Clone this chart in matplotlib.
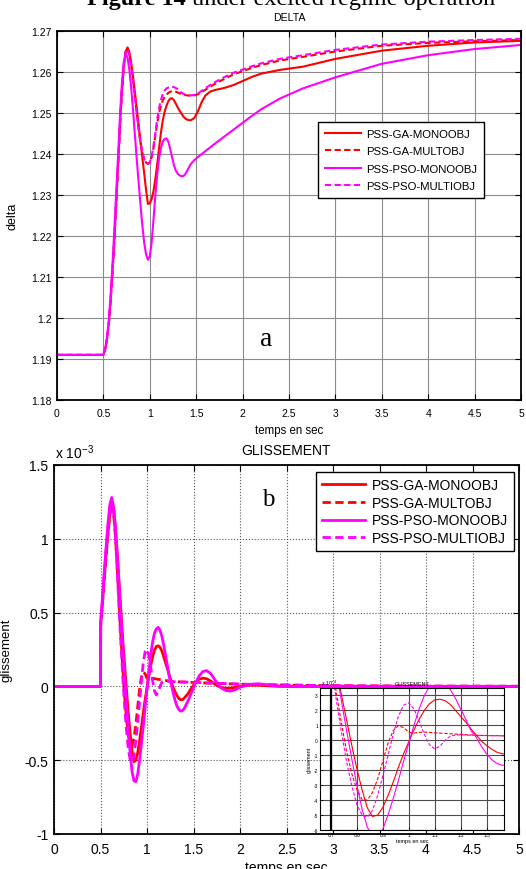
import matplotlib
matplotlib.use("Agg")
import matplotlib.pyplot as plt
from matplotlib.ticker import FormatStrFormatter, MultipleLocator

plt.rcParams["font.family"] = ["Liberation Sans", "DejaVu Sans"]
plt.rcParams["axes.unicode_minus"] = False
plt.rcParams["mathtext.fontset"] = "custom"
plt.rcParams["mathtext.rm"] = "Liberation Sans"

# ---------------------------------------------------------------- data
labels = ["PSS-GA-MONOOBJ", "PSS-GA-MULTOBJ", "PSS-PSO-MONOOBJ", "PSS-PSO-MULTIOBJ"]

# rotor angle (delta)
t_delta = [0.0,
           0.50, 0.52, 0.54, 0.56, 0.58, 0.60, 0.62, 0.64, 0.66, 0.68,
           0.70, 0.72, 0.74, 0.76, 0.78, 0.80, 0.82, 0.84, 0.86, 0.88,
           0.90, 0.92, 0.94, 0.96, 0.98, 1.00, 1.02, 1.04, 1.06, 1.08,
           1.10, 1.12, 1.14, 1.16, 1.18, 1.20, 1.22, 1.24, 1.26, 1.28,
           1.30, 1.32, 1.34, 1.36, 1.38, 1.40,
           1.44, 1.48, 1.52, 1.56, 1.60, 1.65, 1.70, 1.80, 1.90, 2.0,
           2.1, 2.2, 2.4, 2.65, 3.0, 3.5, 4.0, 4.5, 5.0]

delta_ga_mono = [1.1910,
                 1.1910, 1.1925, 1.1950, 1.1990, 1.2050, 1.2120, 1.2200, 1.2290, 1.2380, 1.2475,
                 1.2555, 1.2615, 1.2650, 1.2660, 1.2648, 1.2622, 1.2588, 1.2550, 1.2510, 1.2470,
                 1.2430, 1.2390, 1.2352, 1.2312, 1.2278, 1.2280, 1.2290, 1.2310, 1.2340, 1.2375,
                 1.2415, 1.2452, 1.2482, 1.2503, 1.2518, 1.2529, 1.2535, 1.2536, 1.2531, 1.2523,
                 1.2514, 1.2506, 1.2499, 1.2492, 1.2487, 1.2484,
                 1.2482, 1.2488, 1.2505, 1.2527, 1.2543, 1.2552, 1.2556, 1.2561, 1.2568, 1.2578,
                 1.2588, 1.2596, 1.2605, 1.2613, 1.2632, 1.2652, 1.2664, 1.2672, 1.2676]

delta_ga_mult = [1.1910,
                 1.1910, 1.1925, 1.1950, 1.1990, 1.2050, 1.2120, 1.2200, 1.2290, 1.2380, 1.2475,
                 1.2555, 1.2615, 1.2650, 1.2658, 1.2643, 1.2615, 1.2578, 1.2538, 1.2498, 1.2460,
                 1.2428, 1.2403, 1.2387, 1.2379, 1.2376, 1.2379, 1.2392, 1.2415, 1.2445, 1.2475,
                 1.2500, 1.2518, 1.2531, 1.2539, 1.2545, 1.2549, 1.2552, 1.2553, 1.2553, 1.2552,
                 1.2550, 1.2548, 1.2546, 1.2545, 1.2544, 1.2543,
                 1.2542, 1.2543, 1.2546, 1.2551, 1.2557, 1.2564, 1.2571, 1.2583, 1.2594, 1.2602,
                 1.2610, 1.2617, 1.2628, 1.2637, 1.2650, 1.2664, 1.2671, 1.2675, 1.2678]

delta_pso_mono = [1.1910,
                  1.1910, 1.1925, 1.1955, 1.2000, 1.2065, 1.2140, 1.2225, 1.2315, 1.2405, 1.2500,
                  1.2575, 1.2625, 1.2645, 1.2635, 1.2605, 1.2560, 1.2505, 1.2445, 1.2385, 1.2330,
                  1.2275, 1.2225, 1.2183, 1.2155, 1.2142, 1.2150, 1.2185, 1.2240, 1.2300, 1.2350,
                  1.2390, 1.2415, 1.2430, 1.2437, 1.2438, 1.2430, 1.2412, 1.2392, 1.2373, 1.2360,
                  1.2352, 1.2348, 1.2346, 1.2346, 1.2350, 1.2358,
                  1.2375, 1.2385, 1.2393, 1.2400, 1.2407, 1.2416, 1.2425, 1.2442, 1.2459, 1.2476,
                  1.2493, 1.2509, 1.2535, 1.2560, 1.2587, 1.2620, 1.2641, 1.2656, 1.2666]

delta_pso_mult = [1.1910,
                  1.1910, 1.1925, 1.1950, 1.1990, 1.2050, 1.2120, 1.2200, 1.2290, 1.2380, 1.2475,
                  1.2555, 1.2615, 1.2650, 1.2655, 1.2640, 1.2612, 1.2576, 1.2537, 1.2498, 1.2460,
                  1.2428, 1.2403, 1.2387, 1.2379, 1.2376, 1.2380, 1.2395, 1.2420, 1.2452, 1.2485,
                  1.2512, 1.2532, 1.2546, 1.2555, 1.2560, 1.2562, 1.2564, 1.2564, 1.2563, 1.2561,
                  1.2558, 1.2554, 1.2550, 1.2547, 1.2545, 1.2544,
                  1.2543, 1.2544, 1.2548, 1.2554, 1.2561, 1.2568, 1.2575, 1.2587, 1.2598, 1.2606,
                  1.2614, 1.2621, 1.2632, 1.2641, 1.2654, 1.2667, 1.2674, 1.2678, 1.2681]

# slip (glissement), in units of 1e-3
t_gl = [0.0, 0.50, 0.502,
        0.52, 0.54, 0.56, 0.58, 0.60, 0.62, 0.64, 0.66, 0.68, 0.70,
        0.72, 0.74, 0.76, 0.78, 0.80, 0.82, 0.84, 0.86, 0.88, 0.90,
        0.92, 0.94, 0.96, 0.98, 1.00, 1.02, 1.04, 1.06, 1.08, 1.10,
        1.12, 1.14, 1.16, 1.18, 1.20, 1.22, 1.24, 1.26, 1.28, 1.30,
        1.32, 1.34, 1.36, 1.38, 1.40,
        1.44, 1.48, 1.52, 1.56, 1.60, 1.64, 1.68, 1.72, 1.76, 1.80,
        1.85, 1.90, 1.95, 2.0, 2.1, 2.2, 2.3, 2.4, 2.6, 3.0, 3.5, 4.0, 5.0]

gl_ga_mono = [0.0, 0.0, 0.42,
              0.56, 0.73, 0.89, 1.04, 1.17, 1.25, 1.21, 1.08, 0.90, 0.70,
              0.50, 0.31, 0.14, -0.03, -0.19, -0.33, -0.45, -0.51, -0.50, -0.45,
              -0.37, -0.28, -0.18, -0.09, -0.01, 0.07, 0.14, 0.20, 0.245, 0.27,
              0.275, 0.265, 0.24, 0.20, 0.16, 0.12, 0.075, 0.035, -0.005, -0.035,
              -0.06, -0.08, -0.09, -0.09, -0.08,
              -0.05, -0.01, 0.025, 0.048, 0.056, 0.052, 0.038, 0.02, 0.003, -0.008,
              -0.013, -0.012, -0.006, 0.001, 0.008, 0.008, 0.004, 0.001, -0.001, 0.0, 0.0, 0.0, 0.0]

gl_ga_mult = [0.0, 0.0, 0.41,
              0.55, 0.72, 0.88, 1.03, 1.16, 1.24, 1.18, 1.02, 0.80, 0.56,
              0.33, 0.12, -0.07, -0.22, -0.33, -0.395, -0.40, -0.35, -0.26, -0.14,
              -0.02, 0.065, 0.098, 0.085, 0.055, 0.048, 0.053, 0.055, 0.053, 0.05,
              0.048, 0.046, 0.044, 0.042, 0.04, 0.038, 0.036, 0.034, 0.033, 0.032,
              0.031, 0.031, 0.030, 0.030, 0.029,
              0.028, 0.027, 0.026, 0.025, 0.024, 0.023, 0.022, 0.021, 0.020, 0.019,
              0.018, 0.017, 0.016, 0.015, 0.013, 0.012, 0.011, 0.010, 0.008, 0.005, 0.003, 0.002, 0.001]

gl_pso_mono = [0.0, 0.0, 0.44,
               0.59, 0.77, 0.94, 1.10, 1.23, 1.28, 1.22, 1.08, 0.89, 0.68,
               0.47, 0.27, 0.07, -0.12, -0.30, -0.46, -0.58, -0.64, -0.645, -0.595,
               -0.50, -0.39, -0.27, -0.14, -0.02, 0.10, 0.21, 0.30, 0.36, 0.39,
               0.40, 0.38, 0.34, 0.28, 0.21, 0.14, 0.065, 0.02, -0.04, -0.09,
               -0.13, -0.155, -0.167, -0.165, -0.15,
               -0.10, -0.04, 0.02, 0.07, 0.10, 0.107, 0.09, 0.055, 0.015, -0.012,
               -0.028, -0.032, -0.022, -0.006, 0.014, 0.018, 0.01, 0.003, -0.002, 0.0, 0.0, 0.0, 0.0]

gl_pso_mult = [0.0, 0.0, 0.43,
               0.57, 0.75, 0.92, 1.07, 1.20, 1.26, 1.19, 1.02, 0.78, 0.52,
               0.28, 0.06, -0.14, -0.30, -0.43, -0.50, -0.515, -0.47, -0.37, -0.24,
               -0.10, 0.04, 0.16, 0.235, 0.25, 0.21, 0.13, 0.04, -0.03, -0.058,
               -0.04, 0.0, 0.028, 0.035, 0.036, 0.035, 0.034, 0.033, 0.032, 0.032,
               0.031, 0.031, 0.030, 0.030, 0.030,
               0.029, 0.028, 0.027, 0.026, 0.025, 0.024, 0.023, 0.022, 0.021, 0.020,
               0.019, 0.018, 0.017, 0.016, 0.014, 0.013, 0.012, 0.011, 0.009, 0.005, 0.003, 0.002, 0.001]

delta_series = [delta_ga_mono, delta_ga_mult, delta_pso_mono, delta_pso_mult]
gl_series = [gl_ga_mono, gl_ga_mult, gl_pso_mono, gl_pso_mult]

# ---------------------------------------------------------------- style
RED = "#ff0000"
MAGENTA = "#ff00ff"
colours = [RED, RED, MAGENTA, MAGENTA]
DASH = (0, (3, 1.6))
styles = ["-", DASH, "-", DASH]

W, H = 526, 870
fig = plt.figure(figsize=(W / 100, H / 100), dpi=100)


def px_axes(left, top, right, bottom):
    """Add axes given in pixel coordinates of the final image."""
    return fig.add_axes([left / W, 1 - bottom / H, (right - left) / W, (bottom - top) / H])


def style_axes(ax, size, grid_colour, grid_style, spine_width=1.3, pad=4):
    ax.tick_params(direction="in", top=True, right=True, length=4, width=0.8,
                   labelsize=size, pad=pad)
    for spine in ax.spines.values():
        spine.set_linewidth(spine_width)
    ax.grid(True, color=grid_colour, linestyle=grid_style, linewidth=0.8)
    ax.set_axisbelow(True)


def matlab_ticks(ax, x_step, y_step):
    ax.xaxis.set_major_locator(MultipleLocator(x_step))
    ax.yaxis.set_major_locator(MultipleLocator(y_step))
    ax.xaxis.set_major_formatter(FormatStrFormatter("%g"))
    ax.yaxis.set_major_formatter(FormatStrFormatter("%g"))


# ---------------------------------------------------------------- delta
ax1 = px_axes(57, 32, 521, 401)
for values, colour, style, label in zip(delta_series, colours, styles, labels):
    ax1.plot(t_delta, values, color=colour, linestyle=style, linewidth=1.5, label=label)
ax1.set_xlim(0, 5)
ax1.set_ylim(1.18, 1.27)
matlab_ticks(ax1, 0.5, 0.01)
style_axes(ax1, 7.5, "0.55", "-")
ax1.tick_params(axis="x", pad=6)
ax1.set_title("DELTA", fontsize=7.6, pad=8)
ax1.set_xlabel("temps en sec", fontsize=8.3, labelpad=4)
ax1.set_ylabel("delta", fontsize=9)
ax1.yaxis.set_label_coords(-0.082, 0.5)
leg1 = ax1.legend(loc="upper left", bbox_to_anchor=((318 - 57) / 464, (401 - 123) / 369),
                  fontsize=8.2, fancybox=False, framealpha=1, edgecolor="black",
                  handlelength=3.1, handletextpad=0.45, borderpad=0.65,
                  labelspacing=0.62, borderaxespad=0)
leg1.get_frame().set_linewidth(1.0)
fig.text(266 / W, 1 - 340 / H, "a", fontsize=20, family="Liberation Serif",
         ha="center", va="center")

# ---------------------------------------------------------------- glissement
ax2 = px_axes(54, 466, 519, 835)
for values, colour, style, label in zip(gl_series, colours, styles, labels):
    ax2.plot(t_gl, values, color=colour, linestyle=style, linewidth=2.0, label=label)
ax2.set_xlim(0, 5)
ax2.set_ylim(-1, 1.5)
matlab_ticks(ax2, 0.5, 0.5)
style_axes(ax2, 10, "0.35", ":")
ax2.tick_params(axis="x", pad=6)
ax2.set_title("GLISSEMENT", fontsize=10, pad=8)
ax2.set_xlabel("temps en sec", fontsize=10, labelpad=3)
ax2.set_ylabel("glissement", fontsize=9.5)
ax2.yaxis.set_label_coords(-0.089, 0.5)
fig.text(55 / W, 1 - 459 / H, r"x 10$^{-3}$", fontsize=10, va="baseline", ha="left")
leg2 = ax2.legend(loc="upper left", bbox_to_anchor=((316 - 54) / 465, (835 - 473) / 369),
                  fontsize=10, fancybox=False, framealpha=1, edgecolor="black",
                  handlelength=3.1, handletextpad=0.45, borderpad=0.45,
                  labelspacing=0.26, borderaxespad=0)
leg2.get_frame().set_linewidth(1.0)
fig.text(268 / W, 1 - 500 / H, "b", fontsize=18, family="Liberation Serif",
         ha="center", va="center")

# ---------------------------------------------------------------- zoom inset
ax3 = px_axes(320, 689, 504, 831)
for values, colour, style in zip(gl_series, colours, styles):
    ax3.plot(t_gl, [v * 10 for v in values], color=colour, linestyle=style, linewidth=0.8)
ax3.axvline(0.7, color="black", linewidth=1.6)
ax3.set_xlim(0.658, 1.367)
ax3.set_ylim(-6, 3.5)
matlab_ticks(ax3, 0.1, 1)
style_axes(ax3, 3.5, "0.3", "-", spine_width=0.8, pad=1.5)
ax3.tick_params(length=2, width=0.5)
ax3.set_title("GLISSEMENT", fontsize=3.9, pad=2)
ax3.set_xlabel("temps en sec", fontsize=4, labelpad=1)
ax3.set_ylabel("glissement", fontsize=4, labelpad=1)
fig.text(321 / W, 1 - 686 / H, r"x 10$^{-4}$", fontsize=3.8, va="baseline", ha="left")

# ---------------------------------------------------------------- figure caption
fig.text(87 / W, 1 - 5 / H, "Figure 14", fontsize=17.5, family="Liberation Serif",
         fontweight="bold", va="baseline", ha="left")
fig.text(192 / W, 1 - 5 / H, "under excited regime operation", fontsize=17.5,
         family="Liberation Serif", va="baseline", ha="left")

fig.savefig("out.png", dpi=100)
